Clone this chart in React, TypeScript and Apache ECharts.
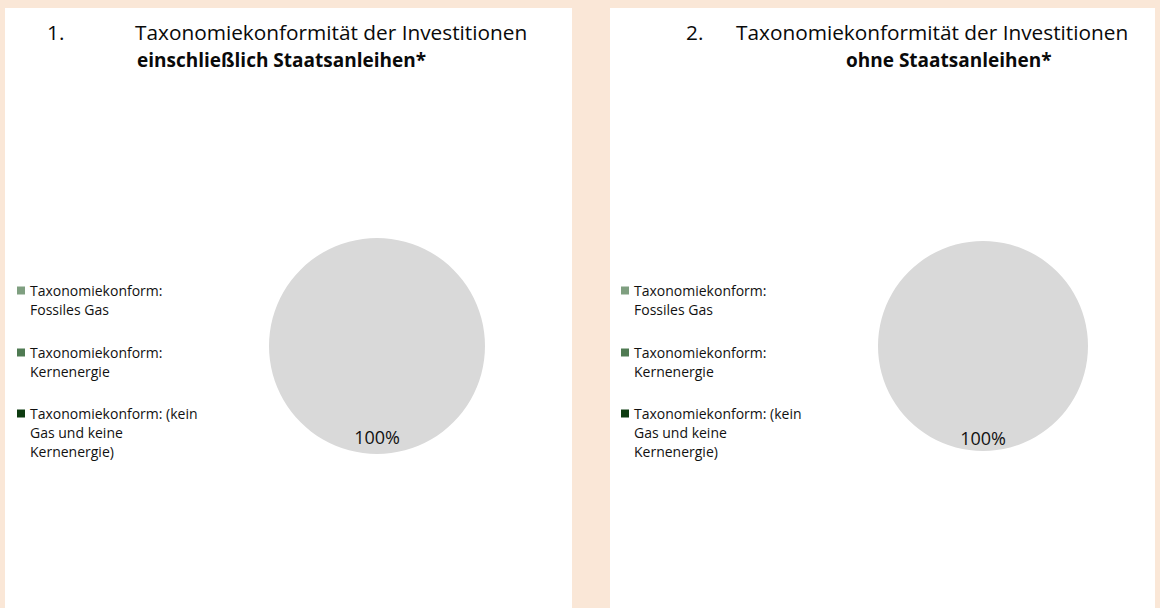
import React, { useEffect, useRef } from "react";
import * as echarts from "echarts";

const categories = [
  "Taxonomiekonform:\nFossiles Gas",
  "Taxonomiekonform:\nKernenergie",
  "Taxonomiekonform: (kein\nGas und keine\nKernenergie)",
  "Nicht taxonomiekonform",
];
const valuesWithSovereigns = [0, 0, 0, 100];
const valuesWithoutSovereigns = [0, 0, 0, 100];
const sliceColors = ["#7F9F80", "#4F7A52", "#0D3B10", "#D9D9D9"];
const chartNumbers = ["1.", "2."];
const titleFirstLine = "Taxonomiekonformität der Investitionen";
const titleSecondLines = ["einschließlich Staatsanleihen*", "ohne Staatsanleihen*"];
const legendTwoLine = categories.slice(0, 2);
const legendThreeLine = categories.slice(2, 3);

export default function App() {
  const ref = useRef<HTMLDivElement>(null);
  useEffect(() => {
    if (!ref.current) return;
    const chart = echarts.init(ref.current, null, { renderer: "svg" });
    const font = "'Open Sans', sans-serif";
    const makeData = (vals: number[]) =>
      categories.map((name, i) => ({ name, value: vals[i], itemStyle: { color: sliceColors[i] } }));
    const icon2 = "path://M0,0L0,0M0,5.5L8,5.5L8,13.5L0,13.5ZM8,38L8,38";
    const icon3 = "path://M0,0L0,0M0,5.5L8,5.5L8,13.5L0,13.5ZM8,57L8,57";
    const legendBase = {
      orient: "vertical",
      padding: 0,
      itemWidth: 8,
      selectedMode: false,
      textStyle: { fontFamily: font, fontSize: 14, lineHeight: 19, color: "#111" },
    };
    const titleStyle = { fontFamily: font, fontSize: 20.8, fontWeight: "normal", color: "#0a0a0a", lineHeight: 24 };
    const boldStyle = { ...titleStyle, fontSize: 19, fontWeight: "bold" };
    const pieLabel = {
      show: true,
      position: "inside",
      fontFamily: font,
      fontSize: 18,
      color: "#111",
      formatter: (p: any) => (p.value > 0 ? `${p.percent}%` : ""),
    };
    const pieBase = {
      type: "pie",
      startAngle: 90,
      clockwise: true,
      avoidLabelOverlap: false,
      itemStyle: { borderWidth: 0 },
      emphasis: { disabled: true },
      labelLine: { show: false },
      label: pieLabel,
    };
    chart.setOption({
      animation: false,
      backgroundColor: "#FAE7D7",
      graphic: [
        { type: "rect", z: -10, silent: true, shape: { x: 5, y: 8, width: 567, height: 600 }, style: { fill: "#fff" } },
        { type: "rect", z: -10, silent: true, shape: { x: 610, y: 8, width: 545, height: 600 }, style: { fill: "#fff" } },
      ],
      title: [
        { text: chartNumbers[0], left: 47, top: 20, padding: 0, textStyle: titleStyle },
        { text: titleFirstLine, left: 135, top: 20, padding: 0, textStyle: titleStyle },
        { text: titleSecondLines[0], left: 137, top: 48, padding: 0, textStyle: boldStyle },
        { text: chartNumbers[1], left: 686, top: 20, padding: 0, textStyle: titleStyle },
        { text: titleFirstLine, left: 736, top: 20, padding: 0, textStyle: titleStyle },
        { text: titleSecondLines[1], left: 846, top: 48, padding: 0, textStyle: boldStyle },
      ],
      legend: [
        { ...legendBase, left: 17, top: 281, itemGap: 24, itemHeight: 38, icon: icon2, data: legendTwoLine },
        { ...legendBase, left: 17, top: 404, itemHeight: 57, icon: icon3, data: legendThreeLine },
        { ...legendBase, left: 621, top: 281, itemGap: 24, itemHeight: 38, icon: icon2, data: legendTwoLine },
        { ...legendBase, left: 621, top: 404, itemHeight: 57, icon: icon3, data: legendThreeLine },
      ],
      series: [
        {
          ...pieBase,
          name: "einschließlich Staatsanleihen",
          center: [377, 346],
          radius: 108,
          labelLayout: { dy: 34 },
          data: makeData(valuesWithSovereigns),
        },
        {
          ...pieBase,
          name: "ohne Staatsanleihen",
          center: [983, 346],
          radius: 105,
          labelLayout: { dy: 36 },
          data: makeData(valuesWithoutSovereigns),
        },
      ],
    });
    return () => chart.dispose();
  }, []);
  return <div ref={ref} style={{ position: "fixed", left: 0, top: 0, width: 1160, height: 608 }} />;
}
